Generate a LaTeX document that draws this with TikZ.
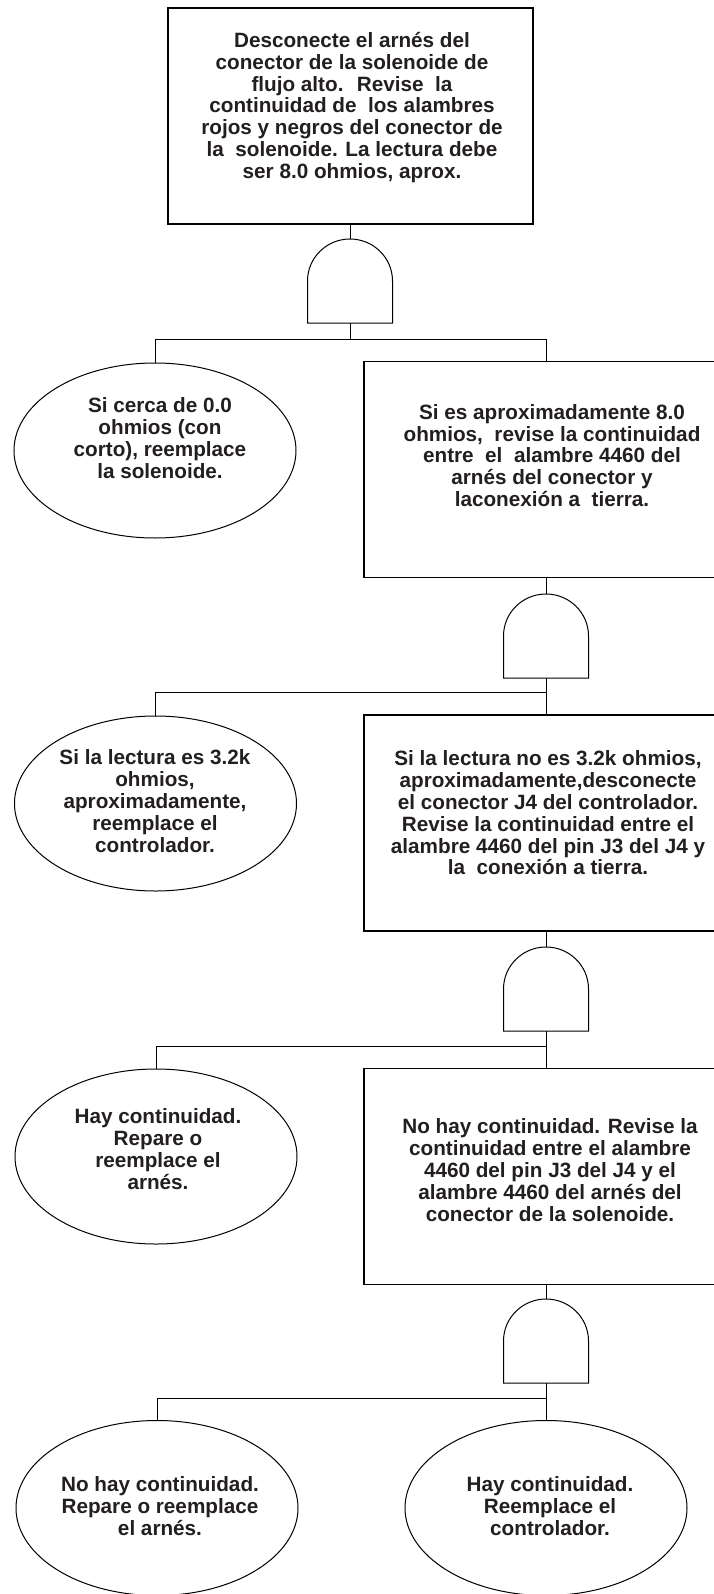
\documentclass[tikz,border=0pt]{standalone}
\usepackage{fontspec}
\setmainfont{Liberation Sans}
\usetikzlibrary{shapes.geometric}
\definecolor{ink}{RGB}{35,31,32}
\begin{document}
\begin{tikzpicture}[x=1pt,y=-1pt,
  line/.style={draw=black,line width=1pt},
  stepbox/.style={draw=black,line width=1.3pt,minimum width=365pt,minimum height=216pt,inner sep=0pt},
  leaf/.style={ellipse,draw=black,line width=1pt,minimum width=282pt,minimum height=175pt,inner sep=0pt},
  txt/.style={align=center,text=ink,inner sep=0pt,font={\fontsize{20.7}{21.8}\selectfont\bfseries\lineskiplimit=-100pt\lineskip=0pt}},
  andgate/.pic={\draw[line width=1pt] (-42.5,0) -- (-42.5,-42) arc[start angle=180,end angle=0,x radius=42.5pt,y radius=42pt] -- (42.5,0) -- cycle;}
]
\useasboundingbox (0,0) rectangle (714,1594);
\clip (0,0) rectangle (714,1594);
\fill[white] (0,0) rectangle (714,1594);

% top box
\node[stepbox] (top) at (350.5,116) {};
\node[txt] (t0) at (352,107.5) {Desconecte el arnés del\\conector de la solenoide de\\flujo alto.~ Revise~ la\\continuidad de~ los alambres\\rojos y negros del conector de\\la~ solenoide. La lectura debe\\ser 8.0 ohmios, aprox.};

% level 1
\pic at (350,323) {andgate};
\coordinate (g1t) at (350,239);
\coordinate (g1b) at (350,323);
\coordinate (j1) at (350,339);
\node[leaf] (e1) at (155,450.5) {};
\node[txt] (t1) at (160,438) {Si cerca de 0.0\\ohmios (con\\corto), reemplace\\la solenoide.};
\node[stepbox] (b1) at (546.5,469.5) {};
\node[txt] (t2) at (552,455.5) {Si es aproximadamente 8.0\\ohmios,~ revise la continuidad\\entre~ el~ alambre 4460 del\\arnés del conector y\\laconexión a~ tierra.};
\draw[line] (top.south -| g1t) -- (g1t);
\draw[line] (g1b) -- (j1);
\draw[line] (e1.north) -- (e1.north |- j1) -- (b1.north |- j1) -- (b1.north);

% level 2
\pic at (546,678) {andgate};
\coordinate (g2t) at (546,594);
\coordinate (g2b) at (546,678);
\coordinate (j2) at (546,692);
\node[leaf] (e2) at (155.5,803.5) {};
\node[txt] (t3) at (155,801) {Si la lectura es 3.2k\\ohmios,\\aproximadamente,\\reemplace el\\controlador.};
\node[stepbox] (b2) at (546.5,823) {};
\node[txt] (t4) at (548,813) {Si la lectura no es 3.2k ohmios,\\aproximadamente,desconecte\\el conector J4 del controlador.\\Revise la continuidad entre el\\alambre 4460 del pin J3 del J4 y\\la~ conexión a tierra.};
\draw[line] (b1.south -| g2t) -- (g2t);
\draw[line] (g2b) -- (j2);
\draw[line] (e2.north) -- (e2.north |- j2) -- (b2.north |- j2) -- (b2.north);

% level 3
\pic at (546,1031) {andgate};
\coordinate (g3t) at (546,947);
\coordinate (g3b) at (546,1031);
\coordinate (j3) at (546,1046);
\node[leaf] (e3) at (156,1156.5) {};
\node[txt] (t5) at (158,1149) {Hay continuidad.\\Repare o\\reemplace el\\arnés.};
\node[stepbox] (b3) at (546.5,1176.5) {};
\node[txt] (t6) at (550,1170) {No hay continuidad. Revise la\\continuidad entre el alambre\\4460 del pin J3 del J4 y el\\alambre 4460 del arnés del\\conector de la solenoide.};
\draw[line] (b2.south -| g3t) -- (g3t);
\draw[line] (g3b) -- (j3);
\draw[line] (e3.north) -- (e3.north |- j3) -- (b3.north |- j3) -- (b3.north);

% level 4
\pic at (546,1383) {andgate};
\coordinate (g4t) at (546,1299);
\coordinate (g4b) at (546,1383);
\coordinate (j4) at (546,1398);
\node[leaf] (e4) at (157,1508) {};
\node[txt] (t7) at (160,1506) {No hay continuidad.\\Repare o reemplace\\el arnés.};
\node[leaf] (e5) at (546,1508) {};
\node[txt] (t8) at (550,1506) {Hay continuidad.\\Reemplace el\\controlador.};
\draw[line] (b3.south -| g4t) -- (g4t);
\draw[line] (g4b) -- (j4);
\draw[line] (e4.north) -- (e4.north |- j4) -- (e5.north |- j4) -- (e5.north);
\end{tikzpicture}
\end{document}
